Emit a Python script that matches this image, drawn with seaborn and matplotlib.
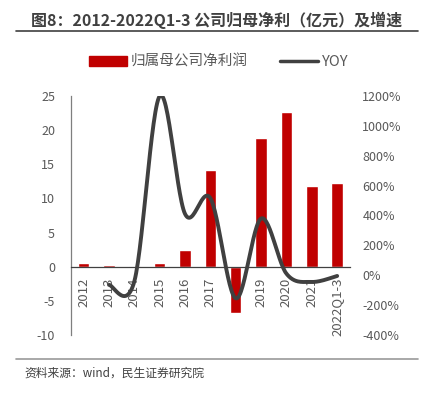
import numpy as np
import seaborn as sns
import matplotlib.pyplot as plt
from matplotlib.patches import Patch
from matplotlib.lines import Line2D

years = ['2012', '2013', '2014', '2015', '2016', '2017', '2018', '2019', '2020', '2021', '2022Q1-3']
profit = [0.5, 0.2, 0.1, 0.5, 2.4, 14.1, -6.8, 18.9, 22.6, 11.8, 12.2]
yoy_years = years[1:]
yoy = [-65, -40, 1200, 410, 515, -155, 380, 10, -45, -5]

title = '图8：2012-2022Q1-3 公司归母净利（亿元）及增速'
source = '资料来源：wind，民生证券研究院'
bar_color = '#C00000'
line_color = '#404040'
text_color = '#595959'


def smooth(xs, ys, n=30):
    # excel-like smoothed line (catmull-rom through the points)
    pts = np.column_stack([xs, ys]).astype(float)
    pts = np.vstack([pts[0], pts, pts[-1]])
    out = []
    t = np.linspace(0, 1, n)[:, None]
    for i in range(1, len(pts) - 2):
        p0, p1, p2, p3 = pts[i - 1], pts[i], pts[i + 1], pts[i + 2]
        c = 0.5 * ((2 * p1) + (-p0 + p2) * t + (2 * p0 - 5 * p1 + 4 * p2 - p3) * t ** 2
                   + (-p0 + 3 * p1 - 3 * p2 + p3) * t ** 3)
        out.append(c)
    out = np.vstack(out)
    return out[:, 0], out[:, 1]


sns.set_theme(style='white')
plt.rcParams['font.family'] = ['Noto Sans CJK SC', 'DejaVu Sans']

fig = plt.figure(figsize=(4.29, 3.95), dpi=100)
ax = fig.add_axes([0.1655, 0.152, 0.650, 0.605])

sns.barplot(x=years, y=profit, color=bar_color, saturation=1, width=0.45, ax=ax)
ax.set_xlim(-0.5, len(years) - 0.5)
ax.set_ylim(-10, 25)
ax.set_yticks(range(-10, 30, 5))
ax.set_yticklabels([str(v) for v in range(-10, 30, 5)], fontsize=9, color=text_color)

ax.spines['top'].set_visible(False)
ax.spines['right'].set_visible(False)
ax.spines['bottom'].set_position(('data', 0))
ax.spines['bottom'].set_color('#404040')
ax.spines['bottom'].set_linewidth(0.9)
ax.spines['left'].set_color('#7f7f7f')
ax.spines['left'].set_linewidth(0.9)
ax.set_xticks(range(len(years)))
ax.set_xticklabels(years, rotation=90, fontsize=9.5, color=text_color, va='top')
ax.tick_params(axis='x', length=0, pad=8)
ax.tick_params(axis='y', length=0, pad=11.5)

ax2 = ax.twinx()
xpos = [years.index(y) for y in yoy_years]
sx, sy = smooth(xpos, yoy)
ax2.plot(sx, sy, color=line_color, lw=2.8, solid_capstyle='round')
ax2.set_ylim(-400, 1200)
ax2.set_yticks(range(-400, 1400, 200))
ax2.set_yticklabels([f'{v}%' for v in range(-400, 1400, 200)], fontsize=9, color=text_color)
ax2.tick_params(axis='y', length=0, pad=9)
for s in ax2.spines.values():
    s.set_visible(False)

handles = [Patch(color=bar_color), Line2D([0], [0], color=line_color, lw=2.5)]
fig.legend(handles, ['归属母公司净利润', 'YOY'], loc='center', bbox_to_anchor=(0.51, 0.843),
           ncol=2, frameon=False, fontsize=10.5, handlelength=2.6, handleheight=0.6,
           columnspacing=2.2, handletextpad=0.3, labelcolor=text_color)

fig.text(0.505, 0.948, title, ha='center', va='center', fontsize=11.5, fontweight='bold', color='#404040')
fig.add_artist(Line2D([0.037, 0.975], [0.921, 0.921], color='#404040', lw=1.2))
fig.add_artist(Line2D([0.037, 0.975], [0.091, 0.091], color='#999999', lw=1.2))
fig.text(0.058, 0.055, source, ha='left', va='center', fontsize=8.5, color='#404040')

fig.savefig('out.png', dpi=100)
